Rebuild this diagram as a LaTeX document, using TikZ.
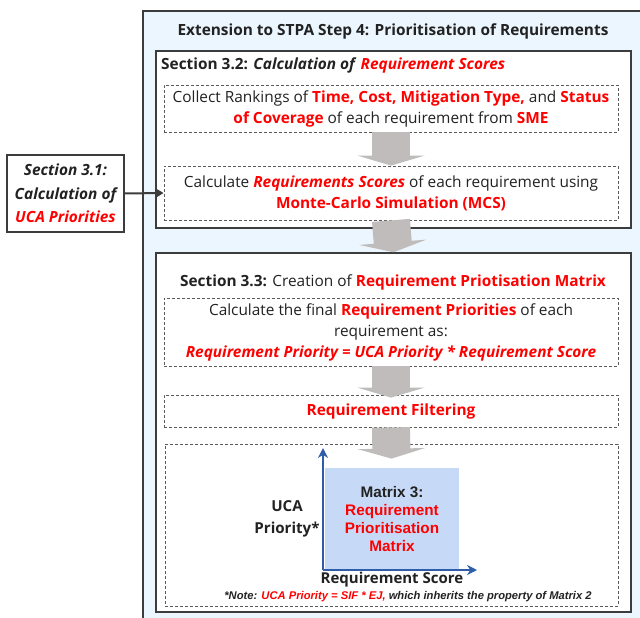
\documentclass[tikz,border=0pt]{standalone}
\usepackage{fontspec}
\setmainfont{Open Sans}
\newfontfamily\arialf{Liberation Sans}
\usetikzlibrary{arrows.meta}
\definecolor{redt}{RGB}{255,0,0}
\definecolor{darkt}{RGB}{34,34,34}
\definecolor{outerfill}{RGB}{235,246,254}
\definecolor{arrowgray}{RGB}{191,188,187}
\definecolor{matfill}{RGB}{198,218,248}
\definecolor{axisblue}{RGB}{47,93,170}
\definecolor{boxline}{RGB}{60,60,60}
\definecolor{dashline}{RGB}{90,90,90}
\newcommand\RB[1]{\textcolor{redt}{\bfseries #1}}
\newcommand\RI[1]{\textcolor{redt}{\bfseries\itshape #1}}
\begin{document}
\begin{tikzpicture}[x=1pt,y=-1pt,
  secbox/.style={draw=boxline, line width=1.5pt, fill=white, minimum width=475pt, inner sep=0pt},
  dbox/.style={draw=dashline, dash pattern=on 3pt off 2pt, line width=0.8pt, minimum width=454pt, inner sep=0pt, align=center, font=\fontsize{15.4}{21}\selectfont, text=darkt},
  bigarrow/.style={draw=arrowgray, line width=38pt, -{Triangle[width=67pt,length=10pt]}},
  txt/.style={text=darkt, inner sep=0pt, align=center, font=\fontsize{15.4}{21}\selectfont},
  axis/.style={draw=axisblue, line width=2pt, -{Stealth[width=10pt,length=10pt]}}
]
\useasboundingbox (0,0) rectangle (640,618);
\clip (0,0) rectangle (640,618);
% outer container
\draw[draw=boxline, line width=2.5pt, fill=outerfill] (143,11) rectangle (680,660);
\node[txt, font=\fontsize{15.4}{18}\selectfont\bfseries] (title) at (393,31) {Extension to STPA Step 4: Prioritisation of Requirements};

% section 3.2
\node[secbox, minimum height=177pt] (sec32) at (393.5,139.5) {};
\node[txt, anchor=west, font=\fontsize{15.4}{18}\selectfont] (t32) at (161,65) {\textbf{Section 3.2:} \textbf{\itshape Calculation of} \RI{Requirement Scores}};
\node[dbox, minimum height=47pt] (d1) at (391,108.5) {Collect Rankings of \RB{Time, Cost, Mitigation Type,} and \RB{Status}\\\RB{of Coverage} of each requirement from \RB{SME}};
\node[dbox, minimum height=54pt] (d2) at (391,193) {Calculate \RI{Requirements Scores} of each requirement using\\\RB{Monte-Carlo Simulation (MCS)}};

% section 3.1
\node[draw=boxline, line width=1.5pt, fill=white, minimum width=117pt, minimum height=77pt, inner sep=0pt, align=center, text=darkt, font=\fontsize{15.4}{23.5}\selectfont\bfseries\itshape] (s31) at (65.5,193.5) {Section 3.1:\\Calculation of\\\textcolor{redt}{UCA Priorities}};
\draw[draw=boxline, line width=2pt, -{Triangle[width=9pt,length=8pt]}] (s31.east) -- (d2.west);

% section 3.3
\node[secbox, minimum height=359pt] (sec33) at (393.5,432.5) {};
\node[txt, font=\fontsize{15.4}{18}\selectfont] (t33) at (393,282) {\textbf{Section 3.3:} Creation of \RB{Requirement Priotisation Matrix}};
\node[dbox, minimum height=68pt] (d3) at (391,332) {Calculate the final \RB{Requirement Priorities} of each\\requirement as:\\\RI{Requirement Priority = UCA Priority * Requirement Score}};
\node[dbox, minimum height=32pt] (d4) at (391,411) {\RB{Requirement Filtering}};
\node[dbox, minimum height=162pt, minimum width=453pt] (d5) at (391.5,525) {};

% matrix
\node[fill=matfill, minimum width=134pt, minimum height=102pt, inner sep=0pt, align=center, font=\arialf\fontsize{15.3}{18}\selectfont\bfseries, text=darkt] (mat) at (392,519) {Matrix 3:\\\textcolor{redt}{Requirement}\\\textcolor{redt}{Prioritisation}\\\textcolor{redt}{Matrix}};
\coordinate (org) at (323,570);
\coordinate (ytop) at (323,448);
\coordinate (xend) at (477,570);
\draw[axis] (org) -- (ytop);
\draw[axis] (org) -- (xend);
\node[txt, font=\fontsize{15.1}{22}\selectfont\bfseries] (ylab) at (287,519) {UCA\\Priority*};
\node[txt, font=\fontsize{15}{18}\selectfont\bfseries] (xlab) at (392,580) {Requirement Score};
\node[txt, font=\arialf\fontsize{11.2}{13}\selectfont\bfseries\itshape] (note) at (408,597) {*Note: \textcolor{redt}{UCA Priority = SIF * EJ,} which inherits the property of Matrix 2};

% block arrows
\draw[bigarrow] (d1.south) -- (d2.north);
\draw[bigarrow] (d2.south) -- (sec33.north);
\draw[bigarrow] (d3.south) -- ([yshift=-3pt]d4.north);
\draw[bigarrow] (d4.south) -- ([yshift=-15pt]d5.north);
\end{tikzpicture}
\end{document}
